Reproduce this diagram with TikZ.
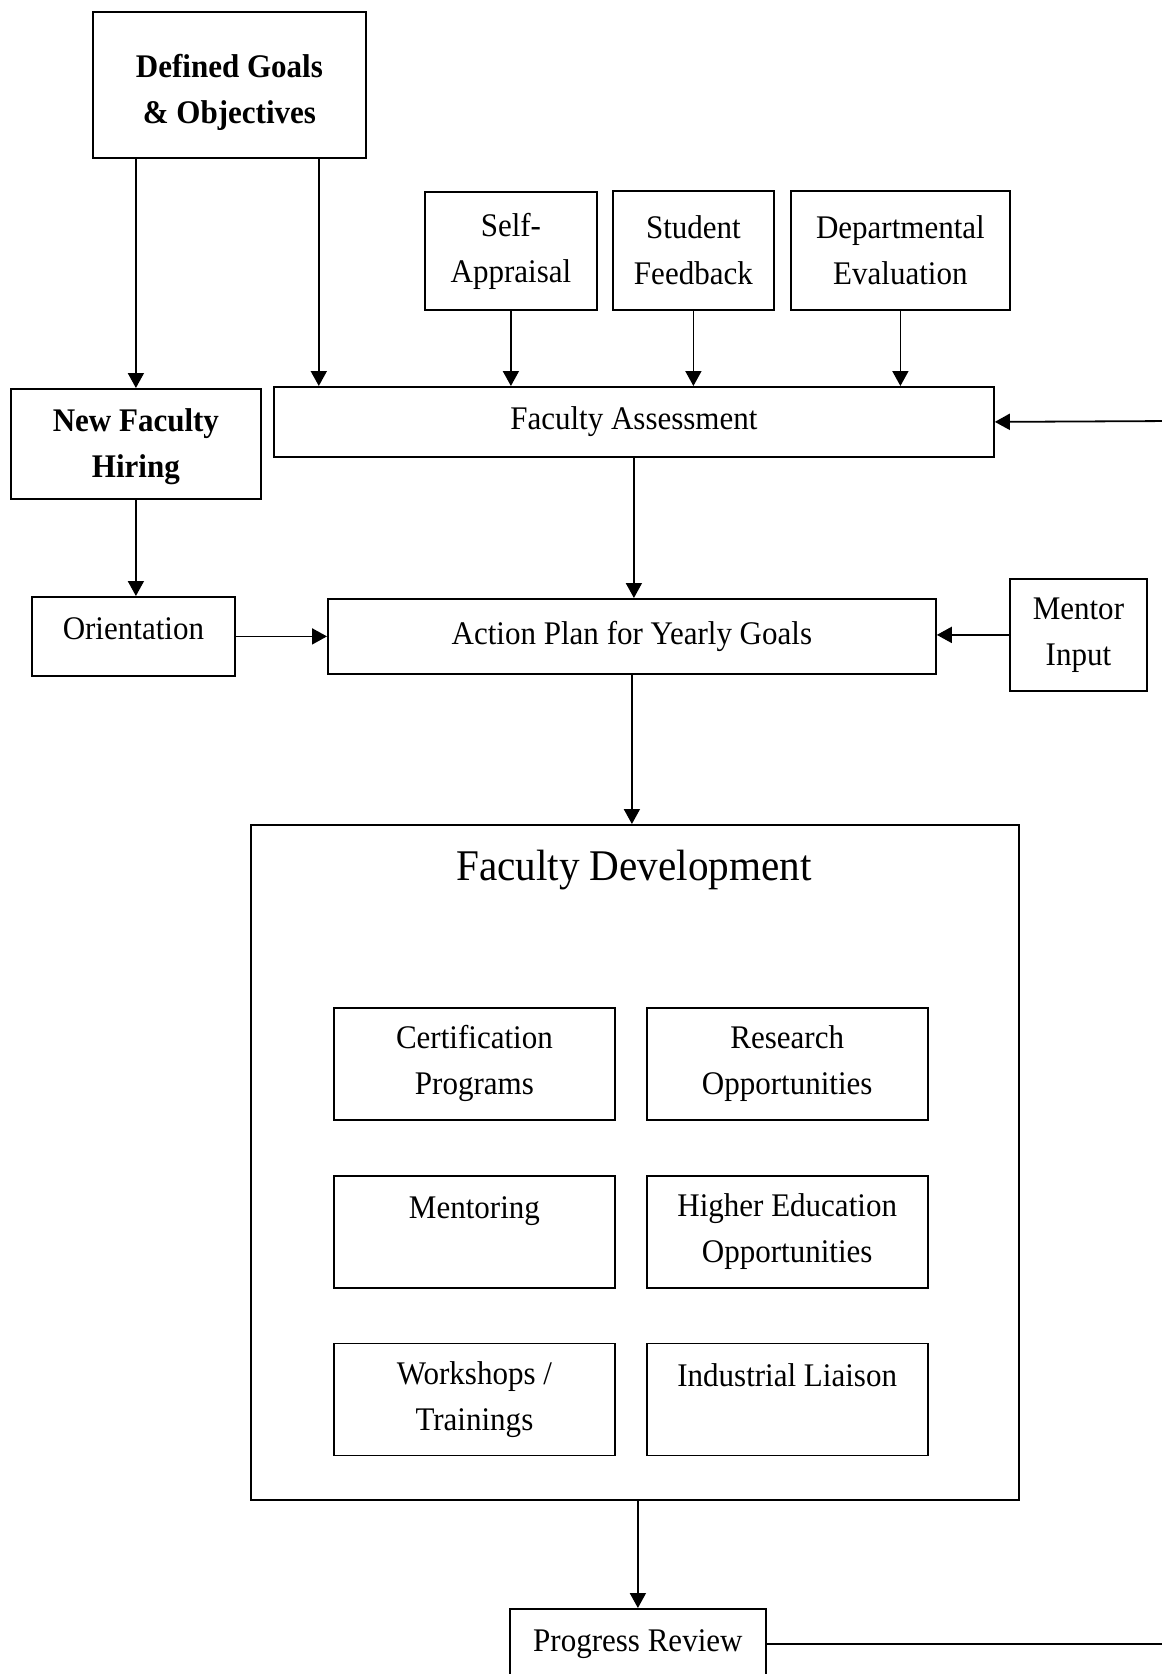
\documentclass[tikz,border=0pt]{standalone}
\usepackage{fontspec}
\setmainfont{Liberation Serif}[FakeStretch=0.94]
\usetikzlibrary{arrows.meta,positioning}

\begin{document}
\begin{tikzpicture}[x=0.5pt,y=-0.5pt,line width=0.9pt,
  >={Triangle[length=7.5pt,width=8pt]},
  every node/.style={font=\fontsize{16.5}{23}\selectfont},
  b/.style={draw,align=center,inner sep=0pt,anchor=north west},
  sub/.style={b,minimum width=140.5pt,minimum height=56pt},
  top/.style={text depth=24.6pt}]
 \useasboundingbox (0,0) rectangle (1161,1674);
 % inputs
 \node[b,font=\bfseries\fontsize{16.5}{23}\selectfont,text height=41.7pt,minimum width=136.5pt,minimum height=73pt] (goals) at (92,11) {Defined Goals\\ \& Objectives};
 \node[b,font=\bfseries\fontsize{16.5}{23}\selectfont,text height=37pt,minimum width=125pt,minimum height=55pt] (hire) at (10,388) {New Faculty\\ Hiring};
 \node[b,minimum width=86pt,minimum height=59pt] (self) at (424,191) {Self-\\ Appraisal};
 \node[b,minimum width=80.5pt,minimum height=59.5pt] (stud) at (612,190) {Student\\ Feedback};
 \node[b,minimum width=109.5pt,minimum height=59.5pt] (dept) at (790,190) {Departmental\\ Evaluation};
 \node[b,minimum width=360pt,minimum height=35pt] (assess) at (273,386) {Faculty Assessment};
 \node[b,text depth=7.5pt,minimum width=101.5pt,minimum height=39.5pt] (orient) at (31,596) {Orientation};
 \node[b,minimum width=304pt,minimum height=37.5pt] (plan) at (327,598) {Action Plan for Yearly Goals};
 \node[b,minimum width=68.5pt,minimum height=56pt] (ment) at (1009,578) {Mentor\\ Input};
 % development block
 \node[b,minimum width=384pt,minimum height=337.5pt] (dev) at (250,824) {};
 \node[font=\fontsize{21.9}{26}\selectfont] (devt) at (634,870) {Faculty Development};
 \node[sub] (cert) at (333,1007) {Certification\\ Programs};
 \node[sub,right=15pt of cert] (res) {Research\\ Opportunities};
 \node[sub,top,below=27pt of cert] (mentg) {Mentoring};
 \node[sub,right=15pt of mentg] (higher) {Higher Education\\ Opportunities};
 \node[sub,below=27pt of mentg] (work) {Workshops /\\ Trainings};
 \node[sub,top,right=15pt of work] (ind) {Industrial Liaison};
 \node[b,minimum width=128pt,minimum height=35pt] (prog) at (509,1608) {Progress Review};
 % connectors
 \coordinate (g2) at ([xshift=-24pt]goals.south east);
 \coordinate (back) at (1175,421);
 \draw[->] (hire.north |- goals.south) -- (hire.north);
 \draw[->] (g2) -- (g2 |- assess.north);
 \draw[->] (self) -- (self |- assess.north);
 \draw[->] (stud) -- (stud |- assess.north);
 \draw[->] (dept) -- (dept |- assess.north);
 \draw[->] (assess.south) -- (assess.south |- plan.north);
 \draw[->] (hire.south) -- (hire.south |- orient.north);
 \draw[->] (orient.east) -- (orient.east -| plan.west);
 \draw[->] (ment.west) -- (ment.west -| plan.east);
 \draw[->] (plan.south) -- (plan.south |- dev.north);
 \draw[->] (dev.south -| prog.north) -- (prog.north);
 \draw[->] (prog.east) -| (back) -- (assess.east);
\end{tikzpicture}
\end{document}
